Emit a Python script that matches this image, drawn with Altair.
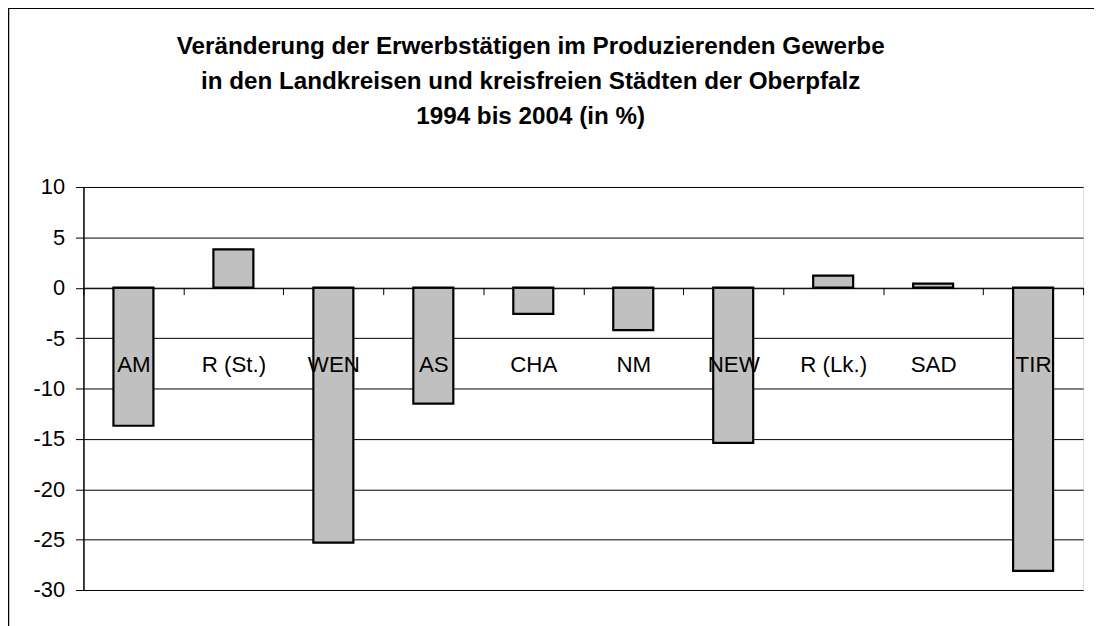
import altair as alt
import pandas as pd

categories = ["AM", "R (St.)", "WEN", "AS", "CHA", "NM", "NEW", "R (Lk.)", "SAD", "TIR"]
values = [-13.7, 3.8, -25.3, -11.5, -2.6, -4.2, -15.4, 1.2, 0.4, -28.1]
y_ticks = [10, 5, 0, -5, -10, -15, -20, -25, -30]
title_lines = [
    "Veränderung der Erwerbstätigen im Produzierenden Gewerbe",
    "in den Landkreisen und kreisfreien Städten der Oberpfalz",
    "1994 bis 2004 (in %)",
]

df = pd.DataFrame({"Kreis": categories, "Wert": values})

FONT = "Liberation Sans"
W, H = 1007, 406

bars = alt.Chart(df).mark_bar(
    fill="#C0C0C0", stroke="black", strokeWidth=2.2,
    width=alt.RelativeBandSize(0.4),
).encode(
    x=alt.X(
        "Kreis:N",
        sort=None,
        title=None,
        scale=alt.Scale(paddingInner=0, paddingOuter=0),
        axis=alt.Axis(
            orient="bottom",
            offset=-304.5,
            labelAngle=0,
            labelFont=FONT,
            labelFontSize=22.5,
            labelColor="black",
            labelBaseline="middle",
            labelPadding=70,
            tickBand="extent",
            tickSize=7,
            tickColor="black",
            tickWidth=1,
            domainColor="black",
            domainWidth=1,
            grid=False,
            zindex=1,
        ),
    ),
    y=alt.Y(
        "Wert:Q",
        title=None,
        scale=alt.Scale(domain=[-30, 10], nice=False),
        axis=alt.Axis(
            values=y_ticks,
            labelExpr="toString(datum.value)",
            labelFont=FONT,
            labelFontSize=22,
            labelColor="black",
            labelPadding=11,
            tickSize=8,
            tickColor="black",
            domainColor="black",
            domainWidth=1.5,
            gridColor="black",
            gridWidth=1,
            zindex=0,
        ),
    ),
)

frame = alt.Chart(alt.Data(values=[{"a": 1}])).mark_rect(
    fill=None, stroke="black", strokeWidth=1.5
).encode(
    x=alt.value(-75.5), x2=alt.value(1100),
    y=alt.value(-180), y2=alt.value(600),
)

chart = alt.layer(frame, bars).properties(
    width=W,
    height=H,
    padding={"left": 76, "top": 178, "right": 11, "bottom": 34},
    autosize=alt.AutoSizeParams(type="none"),
    title=alt.TitleParams(
        text=title_lines,
        font=FONT,
        fontSize=24.4,
        fontWeight="bold",
        color="black",
        lineHeight=35.5,
        anchor="middle",
        dx=-53,
        offset=-123,
    ),
).configure_view(
    stroke="#808080", strokeWidth=2
).configure(background="white")

chart.save("out.html", embed_options={"renderer": "svg", "actions": False})
